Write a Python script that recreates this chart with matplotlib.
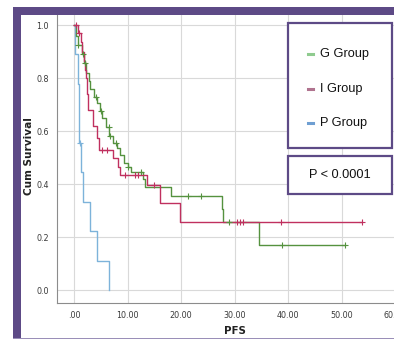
import matplotlib
matplotlib.use("Agg")
import matplotlib.pyplot as plt
import numpy as np
from matplotlib.patches import Rectangle

# ---- data ----
g_times = [0.3, 0.8, 1.4, 1.8, 2.2, 2.8, 3.0, 3.8, 4.3, 4.9, 5.3, 6.0, 6.6, 7.3, 8.0, 8.6,
           9.4, 10.0, 10.7, 12.8, 13.3, 18.2, 27.7, 27.9, 34.5]
g_surv = [0.96, 0.925, 0.89, 0.855, 0.82, 0.79, 0.76, 0.73, 0.705, 0.675, 0.65, 0.615, 0.58,
          0.555, 0.535, 0.51, 0.48, 0.465, 0.445, 0.42, 0.39, 0.355, 0.305, 0.258, 0.17]
g_end = 50.7
g_cens = [0.8, 1.7, 2.1, 4.0, 5.0, 6.5, 6.8, 7.9, 10.0, 12.5, 21.3, 23.7, 29.0, 38.9, 50.7]

i_times = [0.7, 1.2, 1.5, 1.8, 2.1, 2.3, 2.5, 2.6, 3.6, 4.2, 4.7, 7.3, 8.2, 8.5, 13.6, 16.1, 19.8]
i_surv = [0.97, 0.935, 0.90, 0.865, 0.83, 0.80, 0.74, 0.68, 0.62, 0.575, 0.53, 0.50, 0.465,
          0.434, 0.396, 0.328, 0.258]
i_end = 53.9
i_cens = [0.4, 0.9, 5.2, 6.1, 9.5, 11.4, 12.0, 15.0, 30.4, 31.0, 31.6, 38.6, 53.9]

p_times = [0.25, 0.7, 0.95, 1.3, 1.75, 3.0, 4.3, 6.5]
p_surv = [0.889, 0.778, 0.556, 0.444, 0.333, 0.222, 0.111, 0.0]
p_end = 6.5
p_cens = [1.1]

labels = ["G Group", "I Group", "P Group"]
line_colors = ["#55923f", "#c0305f", "#7db3da"]
legend_colors = ["#8fcb8f", "#b0738f", "#6f9fd2"]

x_ticks = [0, 10, 20, 30, 40, 50, 60]
x_ticklabels = [".00", "10.00", "20.00", "30.00", "40.00", "50.00", "60.00"]
y_ticks = [0.0, 0.2, 0.4, 0.6, 0.8, 1.0]
y_ticklabels = ["0.0", "0.2", "0.4", "0.6", "0.8", "1.0"]
p_text = "P < 0.0001"

W, H = 394, 340
fig = plt.figure(figsize=(W / 100, H / 100), dpi=100)
fig.patch.set_facecolor("white")

def fx(px):
    return px / W

def fy(py):
    return 1 - py / H

purple = "#5d4a86"
# frame
fig.patches.append(Rectangle((fx(13), fy(15)), fx(W) - fx(13) + 0.01, 8 / H, transform=fig.transFigure,
                             facecolor=purple, edgecolor="none", zorder=0))
fig.patches.append(Rectangle((fx(13), fy(338)), 8 / W, (338 - 7) / H, transform=fig.transFigure,
                             facecolor=purple, edgecolor="none", zorder=0))
fig.patches.append(Rectangle((fx(13), fy(339)), 1.0, 1.2 / H, transform=fig.transFigure,
                             facecolor="#9a8fb8", edgecolor="none", zorder=0))

# axes
ax_left, ax_right, ax_top, ax_bottom = 57, 400, 15, 303
ax = fig.add_axes([fx(ax_left), fy(ax_bottom), (ax_right - ax_left) / W, (ax_bottom - ax_top) / H])
ax.set_facecolor("white")
x0 = -3.2
x1 = x0 + (ax_right - ax_left) / 5.35
ax.set_xlim(x0, x1)
ax.set_ylim(-0.049, 1.038)

for s in ["top", "right"]:
    ax.spines[s].set_visible(False)
for s in ["left", "bottom"]:
    ax.spines[s].set_color("#8c8c8c")
    ax.spines[s].set_linewidth(0.8)

ax.set_xticks(x_ticks)
ax.set_xticklabels(x_ticklabels)
ax.set_yticks(y_ticks)
ax.set_yticklabels(y_ticklabels)
ax.tick_params(axis="both", labelsize=5.8, colors="#555555", length=0, pad=6)
for t in ax.get_xticklabels() + ax.get_yticklabels():
    t.set_color("#3a3a3a")
ax.grid(True, color="#d9d9d9", linewidth=0.8)
ax.set_axisbelow(True)

def step_data(times, surv, end):
    xs = [0.0]
    ys = [1.0]
    cur = 1.0
    for t, s in zip(times, surv):
        xs += [t, t]
        ys += [cur, s]
        cur = s
    if end > xs[-1]:
        xs.append(end)
        ys.append(cur)
    return xs, ys

def surv_at(times, surv, t):
    cur = 1.0
    for tt, s in zip(times, surv):
        if tt <= t:
            cur = s
    return cur

series = [(g_times, g_surv, g_end, g_cens), (i_times, i_surv, i_end, i_cens), (p_times, p_surv, p_end, p_cens)]
order = [2, 0, 1]
for k in order:
    times, surv, end, cens = series[k]
    xs, ys = step_data(times, surv, end)
    ax.plot(xs, ys, color=line_colors[k], linewidth=1.0, zorder=3)
    cy = [surv_at(times, surv, c) for c in cens]
    ax.plot(cens, cy, linestyle="none", marker="+", markersize=4.5, markeredgewidth=0.8,
            color=line_colors[k], zorder=4)

fig.text(fx(29), fy(156), "Cum Survival", rotation=90, ha="center", va="center",
         fontsize=7.6, fontweight="bold", color="#222222")
fig.text(fx(235), fy(331), "PFS", ha="center", va="center", fontsize=7.4, fontweight="bold",
         color="#222222")

# legend box
fig.patches.append(Rectangle((fx(288), fy(148)), (392 - 288) / W, (148 - 23) / H, transform=fig.transFigure,
                             facecolor="white", edgecolor=purple, linewidth=1.6, zorder=5))
ys_leg = [54, 89, 123]
for k in range(3):
    fig.lines.append(plt.Line2D([fx(308), fx(313)], [fy(ys_leg[k]), fy(ys_leg[k])], transform=fig.transFigure,
                                color=legend_colors[k], linewidth=2.2, zorder=6))
    fig.text(fx(320), fy(ys_leg[k]), labels[k], ha="left", va="center", fontsize=9.2,
             family="Liberation Sans", color="#111111", zorder=6)

fig.patches.append(Rectangle((fx(288), fy(194)), (392 - 288) / W, (194 - 156) / H, transform=fig.transFigure,
                             facecolor="white", edgecolor=purple, linewidth=1.6, zorder=5))
fig.text(fx(340), fy(175), p_text, ha="center", va="center", fontsize=9.2,
         family="Liberation Sans", color="#111111", zorder=6)

fig.savefig("out.png", dpi=100)
